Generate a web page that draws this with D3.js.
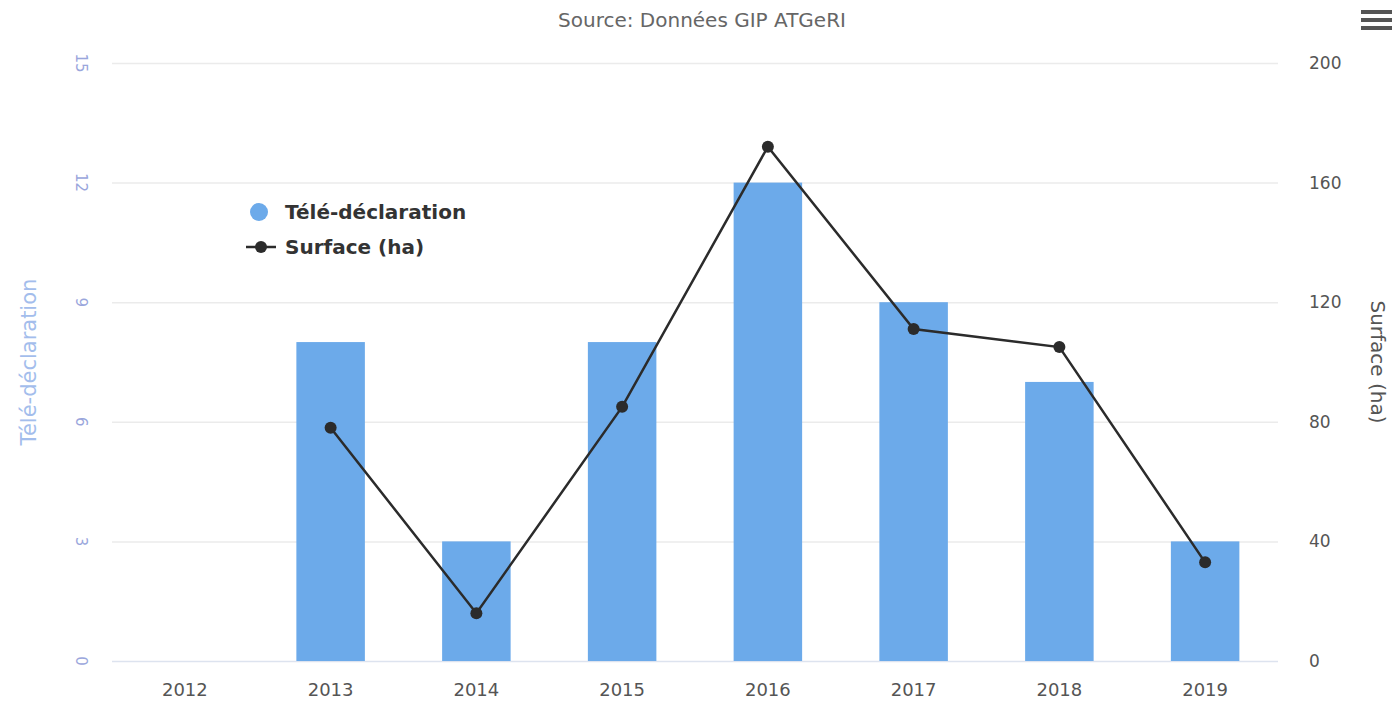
<!DOCTYPE html>
<html>
<head>
<meta charset="utf-8">
<script src="https://cdn.jsdelivr.net/npm/d3@7"></script>
<style>
  body { margin: 0; background: #fff; }
  svg { font-family: "DejaVu Sans", Verdana, sans-serif; }
</style>
</head>
<body>
<script>
// data
var years = ["2012", "2013", "2014", "2015", "2016", "2017", "2018", "2019"];
var teleDeclaration = [0, 8, 3, 8, 12, 9, 7, 3];
var surface = [null, 78, 16, 85, 172, 111, 105, 33];
var leftTicks = [0, 3, 6, 9, 12, 15];
var rightTicks = [0, 40, 80, 120, 160, 200];

var width = 1392, height = 703;
var plotLeft = 112, plotRight = 1278, plotTop = 63, plotBottom = 661;

var svg = d3.select("body").append("svg")
    .attr("width", width)
    .attr("height", height);

var x = d3.scaleBand().domain(years).range([plotLeft, plotRight]).paddingInner(0.53).paddingOuter(0.265);
var yL = d3.scaleLinear().domain([0, 15]).range([plotBottom, plotTop]);
var yR = d3.scaleLinear().domain([0, 200]).range([plotBottom, plotTop]);

// title
svg.append("text")
    .attr("x", 702).attr("y", 27)
    .attr("text-anchor", "middle")
    .style("font-size", "20px")
    .style("fill", "#666")
    .text("Source: Données GIP ATGeRI");

// hamburger
[0, 1, 2].forEach(function(i) {
  svg.append("rect")
    .attr("x", 1361).attr("y", 10 + i * 8)
    .attr("width", 31).attr("height", 4)
    .style("fill", "#555");
});

// grid
svg.append("g").selectAll("line")
    .data(leftTicks)
    .enter().append("line")
    .attr("x1", plotLeft).attr("x2", plotRight)
    .attr("y1", function(d) { return yL(d) + 0.5; })
    .attr("y2", function(d) { return yL(d) + 0.5; })
    .style("stroke", function(d) { return d == 0 ? "#dde3ef" : "#ebebeb"; })
    .style("stroke-width", 1.5);

// left axis (labels are rotated in the source image)
svg.append("g").selectAll("text")
    .data(leftTicks)
    .enter().append("text")
    .attr("transform", function(d) { return "translate(76," + yL(d) + ") rotate(90)"; })
    .attr("text-anchor", "middle")
    .style("font-size", "15px")
    .style("fill", "#9aa6dc")
    .text(function(d) { return d; });

svg.append("text")
    .attr("transform", "translate(36," + 362 + ") rotate(-90)")
    .attr("text-anchor", "middle")
    .style("font-size", "21px")
    .style("fill", "#a3bdec")
    .text("Télé-déclaration");

// right axis
var axR = svg.append("g")
    .attr("transform", "translate(" + (plotRight + 31) + ",0)")
    .call(d3.axisRight(yR).tickValues(rightTicks).tickSize(0).tickPadding(0))
    .attr("font-family", null).attr("font-size", null);
axR.select(".domain").remove();
axR.selectAll("text").style("font-size", "17px").style("fill", "#555");

svg.append("text")
    .attr("transform", "translate(1371," + 362 + ") rotate(90)")
    .attr("text-anchor", "middle")
    .style("font-size", "20px")
    .style("fill", "#555")
    .text("Surface (ha)");

// x axis labels
var axX = svg.append("g")
    .attr("transform", "translate(0," + plotBottom + ")")
    .call(d3.axisBottom(x).tickSize(0).tickPadding(22))
    .attr("font-family", null).attr("font-size", null);
axX.select(".domain").remove();
axX.selectAll("text").style("font-size", "18px").style("fill", "#555");

// bars
svg.append("g").selectAll("rect")
    .data(teleDeclaration)
    .enter().append("rect")
    .attr("x", function(d, i) { return x(years[i]); })
    .attr("width", x.bandwidth())
    .attr("y", function(d) { return yL(d); })
    .attr("height", function(d) { return plotBottom - yL(d); })
    .style("fill", "#6caaea");

// line
var line = d3.line()
    .defined(function(d) { return d != null; })
    .x(function(d, i) { return x(years[i]) + x.bandwidth() / 2; })
    .y(function(d) { return yR(d); });

svg.append("path")
    .datum(surface)
    .attr("d", line)
    .style("fill", "none")
    .style("stroke", "#2b2b2b")
    .style("stroke-width", 2.5);

var points = surface.map(function(d, i) { return { year: years[i], value: d }; })
    .filter(function(d) { return d.value != null; });

svg.append("g").selectAll("circle")
    .data(points)
    .enter().append("circle")
    .attr("cx", function(d) { return x(d.year) + x.bandwidth() / 2; })
    .attr("cy", function(d) { return yR(d.value); })
    .attr("r", 6)
    .style("fill", "#2b2b2b");

// legend
var lg = svg.append("g");
lg.append("circle").attr("cx", 259).attr("cy", 212).attr("r", 9).style("fill", "#6caaea");
lg.append("text").attr("x", 285).attr("y", 219)
    .style("font-size", "20px").style("font-weight", "bold").style("fill", "#333")
    .text("Télé-déclaration");
lg.append("line").attr("x1", 246).attr("x2", 276).attr("y1", 247).attr("y2", 247)
    .style("stroke", "#2b2b2b").style("stroke-width", 2.5);
lg.append("circle").attr("cx", 261).attr("cy", 247).attr("r", 6).style("fill", "#2b2b2b");
lg.append("text").attr("x", 285).attr("y", 254)
    .style("font-size", "20px").style("font-weight", "bold").style("fill", "#333")
    .text("Surface (ha)");
</script>
</body>
</html>
